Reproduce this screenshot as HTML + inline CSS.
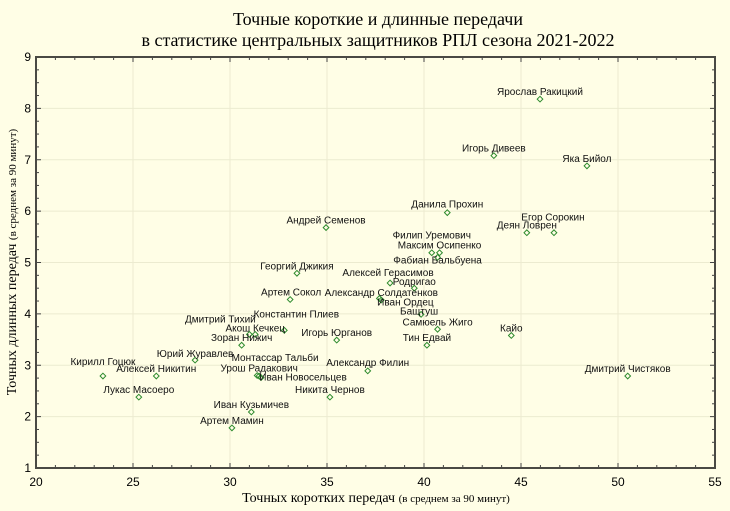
<!DOCTYPE html>
<html><head><meta charset="utf-8"><style>
body{margin:0;background:#fffee6;}
svg{display:block;}
</style></head><body>
<svg id="chart" width="730" height="511" xmlns="http://www.w3.org/2000/svg" style="background:#fffee6">
<text x="378" y="25" text-anchor="middle" font-family="Liberation Serif, serif" font-size="18">Точные короткие и длинные передачи</text>
<text x="378" y="46" text-anchor="middle" font-family="Liberation Serif, serif" font-size="18">в статистике центральных защитников РПЛ сезона 2021-2022</text>
<text x="376" y="502" text-anchor="middle" font-family="Liberation Serif, serif" font-size="14">Точных коротких передач <tspan font-size="11">(в среднем за 90 минут)</tspan></text>
<text transform="translate(16,262) rotate(-90)" text-anchor="middle" font-family="Liberation Serif, serif" font-size="14">Точных длинных передач <tspan font-size="11">(в среднем за 90 минут)</tspan></text>
<g id="grid"></g><g id="axes"></g><g id="marks"></g>
</svg>
<script>
const names=["Ярослав Ракицкий","Игорь Дивеев","Яка Бийол","Данила Прохин","Андрей Семенов","Деян Ловрен","Егор Сорокин","Филип Уремович","Максим Осипенко","Фабиан Бальбуена","Георгий Джикия","Алексей Герасимов","Родригао","Артем Сокол","Александр Солдатенков","Иван Ордец","Бащтуш","Самюель Жиго","Тин Едвай","Кайо","Дмитрий Чистяков","Игорь Юрганов","Константин Плиев","Акош Кечкец","Дмитрий Тихий","Зоран Нижич","Юрий Журавлев","Монтассар Тальби","Урош Радакович","Иван Новосельцев","Кирилл Гоцюк","Алексей Никитин","Лукас Масоеро","Никита Чернов","Александр Филин","Иван Кузьмичев","Артем Мамин"];
const shortPasses=[45.98,43.6,48.4,41.2,34.95,45.3,46.7,40.4,40.8,40.7,33.45,38.25,39.5,33.1,37.8,37.7,39.85,40.7,40.15,44.5,50.5,35.5,32.8,31.3,31.0,30.6,28.2,31.5,31.4,31.6,23.45,26.2,25.3,35.15,37.1,31.1,30.1];
const longPasses=[8.18,7.08,6.88,5.97,5.68,5.58,5.58,5.19,5.19,5.1,4.79,4.6,4.5,4.28,4.27,4.3,3.99,3.7,3.39,3.58,2.79,3.49,3.68,3.6,3.6,3.39,3.1,2.79,2.8,2.76,2.79,2.79,2.38,2.38,2.89,2.09,1.78];
const xTicks=[20,25,30,35,40,45,50,55];
const yTicks=[1,2,3,4,5,6,7,8,9];
// label offsets (px) — styling, not data
const labelDx=[0,0,0,0,0,0,-1,0,0,0,0,-2,0,1,0,26,-2,0,0,0,0,0,12,0,-29,0,0,16,2,42,0,0,0,0,0,0,0];
const labelDy=[-8,-8,-8,-9,-8,-8,-16,-18,-8,2,-8,-11,-7,-8,-8,3,-4,-8,-8,-8,-8,-8,-17,-7,-16,-8,-7,-19,-8,-1,-15,-8,-8,-8,-9,-8,-8];
const L=36,R=715,T=57,B=468,X0=20,X1=55,Y0=1,Y1=9;
const sx=v=>L+(v-X0)/(X1-X0)*(R-L);
const sy=v=>B-(v-Y0)/(Y1-Y0)*(B-T);
const NS="http://www.w3.org/2000/svg";
function mk(tag,attrs,parent,text){const e=document.createElementNS(NS,tag);for(const k in attrs)e.setAttribute(k,attrs[k]);if(text!==undefined)e.textContent=text;parent.appendChild(e);return e;}
const grid=document.getElementById('grid'),axes=document.getElementById('axes'),marks=document.getElementById('marks');
xTicks.forEach(t=>{
 const g=mk('line',{x1:sx(t),x2:sx(t),y1:T,y2:B,stroke:'#ecebd0','stroke-width':1},grid);
 
 
 const tl=mk('text',{x:sx(t),y:486,'text-anchor':'middle','font-family':'Liberation Sans, sans-serif','font-size':12},axes,String(t));
 
 
 [B,T].forEach(yy=>{mk('line',{x1:sx(t),x2:sx(t),y1:yy,y2:yy+(yy===B?-5:5),stroke:'#444','stroke-width':1},axes);});
});
for(let v=X0;v<X1;v++){if(v%5)[B,T].forEach(yy=>mk('line',{x1:sx(v),x2:sx(v),y1:yy,y2:yy+(yy===B?-3:3),stroke:'#444'},axes));}
yTicks.forEach(t=>{
 const g=mk('line',{x1:L,x2:R,y1:sy(t),y2:sy(t),stroke:'#ecebd0','stroke-width':1},grid);
 
 
 const tl=mk('text',{x:31,y:sy(t)+4,'text-anchor':'end','font-family':'Liberation Sans, sans-serif','font-size':12},axes,String(t));
 
 
 mk('line',{x1:L,x2:L+5,y1:sy(t),y2:sy(t),stroke:'#444'},axes);
 mk('line',{x1:R,x2:R-5,y1:sy(t),y2:sy(t),stroke:'#444'},axes);
});
for(let v=Y0;v<Y1;v+=0.25){if(v%1)[[L,3],[R,-3]].forEach(([xx,d])=>mk('line',{x1:xx,x2:xx+d,y1:sy(v),y2:sy(v),stroke:'#444'},axes));}
const frame=mk('rect',{x:L,y:T,width:R-L,height:B-T,fill:'none',stroke:'#4a4a44','stroke-width':2},axes);


names.forEach((n,i)=>{
 const x=sx(shortPasses[i]),y=sy(longPasses[i]);
 const p=mk('rect',{x:x-2,y:y-2,width:4,height:4,fill:'none',stroke:'#2e8b2e','stroke-width':1,transform:`rotate(45 ${x} ${y})`},marks);
 
 
 const t=mk('text',{x:x+labelDx[i],y:y+labelDy[i]+4,'text-anchor':'middle','font-family':'Liberation Sans, sans-serif','font-size':10,fill:'#111'},marks,n);
 
 
});
</script>
</body></html>
